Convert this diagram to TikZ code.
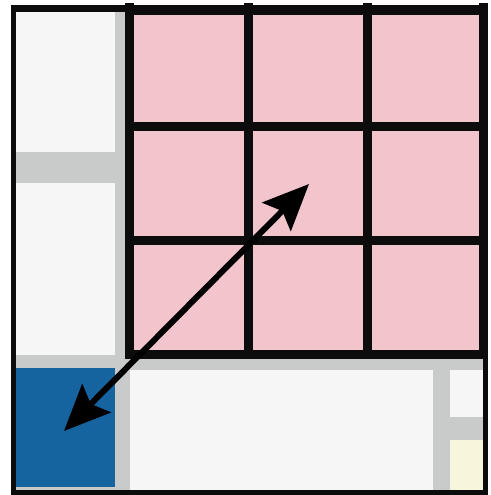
\documentclass[tikz,border=0pt]{standalone}
\usetikzlibrary{arrows.meta}
\definecolor{cellpink}{HTML}{F2C4CB}
\definecolor{panelwhite}{HTML}{F6F6F6}
\definecolor{panelgray}{HTML}{C9CACA}
\definecolor{panelblue}{HTML}{1564A0}
\definecolor{panelyellow}{HTML}{F8F6DA}
\definecolor{framedark}{HTML}{0C0C0C}
\begin{document}
\begin{tikzpicture}[x=1pt,y=-1pt,
  gridline/.style={line width=9pt,framedark,line cap=rect},
  panel/.style={draw=none},
  bigarrow/.style={line width=6pt,{Stealth[length=46pt,width=40pt,inset=8pt]}-{Stealth[length=46pt,width=40pt,inset=8pt]}}]
\useasboundingbox (0,0) rectangle (490,495);
\fill[white] (0,0) rectangle (490,495);
% outer dark frame
\fill[framedark] (11,5) rectangle (488,495);
% gray base
\fill[panelgray] (16,12) rectangle (483,490);
% left column
\fill[panelwhite] (16,12) rectangle (115,152);
\fill[panelwhite] (16,183) rectangle (115,355);
\fill[panelblue] (16,368) rectangle (115,487);
% bottom area
\fill[panelwhite] (130,370) rectangle (433,490);
\fill[panelwhite] (450,370) rectangle (483,417);
\fill[panelyellow] (450,440) rectangle (483,490);
% pink grid
\fill[cellpink] (129,11) rectangle (483,354);
\foreach \gx in {129,248,367,483} \draw[gridline] (\gx,8) -- (\gx,354);
\foreach \gy in {11,126,240,354} \draw[gridline] (129,\gy) -- (483,\gy);
% arrow
\coordinate (lowend) at (64,431);
\coordinate (highend) at (309,184);
\draw[bigarrow] (lowend) -- (highend);
\end{tikzpicture}
\end{document}
